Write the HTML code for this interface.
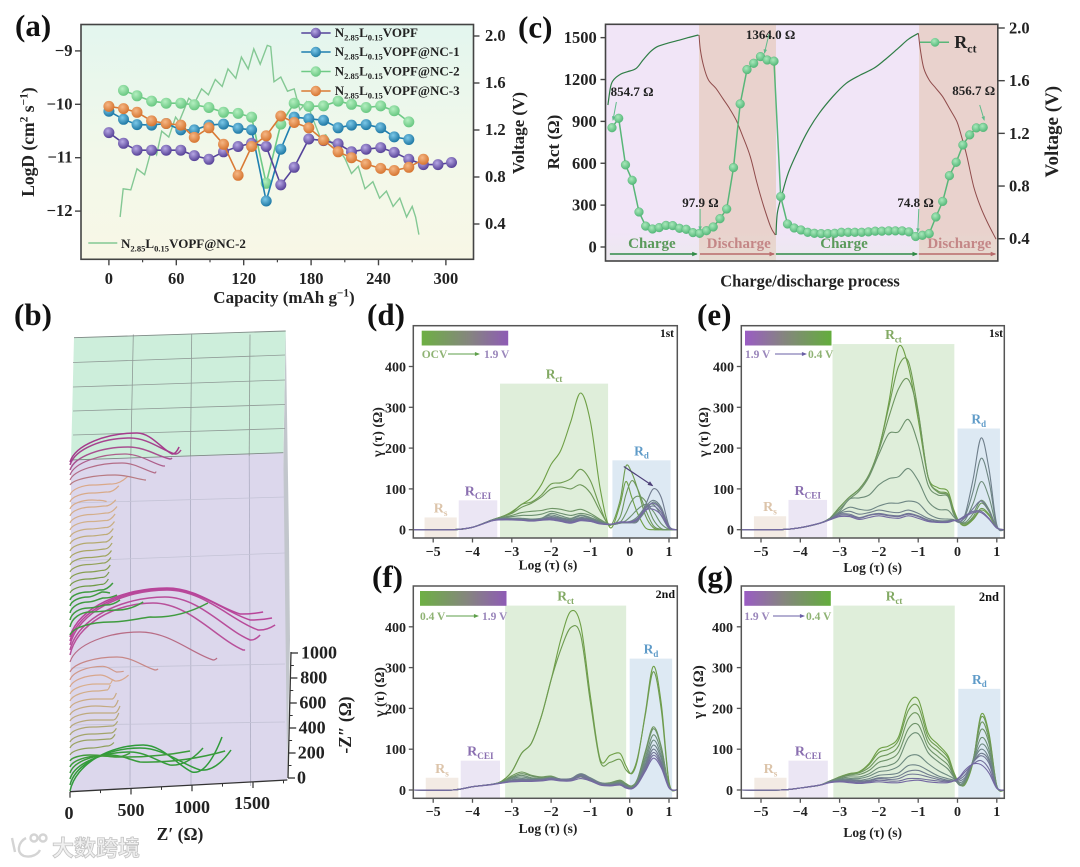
<!DOCTYPE html>
<html lang="en">
<head>
<meta charset="utf-8">
<title>Battery electrochemistry figure</title>
<style>
html,body{margin:0;padding:0;background:#fff;width:1080px;height:867px;overflow:hidden}
svg{display:block;font-family:"Liberation Serif","Noto Serif CJK SC",serif;font-weight:bold}
</style>
</head>
<body>
<svg id="fig" xmlns="http://www.w3.org/2000/svg" width="1080" height="867" viewBox="0 0 1080 867">
<defs>
<linearGradient id="bgA" x1="0" y1="0" x2="0" y2="1"><stop offset="0" stop-color="#e3f6ee"/><stop offset="0.55" stop-color="#f2f8ea"/><stop offset="1" stop-color="#f8f7e6"/></linearGradient>
<linearGradient id="fadeC" x1="0" y1="0" x2="0" y2="1"><stop offset="0" stop-color="#dff0d8" stop-opacity="0"/><stop offset="1" stop-color="#dff0d8" stop-opacity="0.3"/></linearGradient>
<linearGradient id="barGP" x1="0" y1="0" x2="1" y2="0"><stop offset="0" stop-color="#6db043"/><stop offset="0.55" stop-color="#85857f"/><stop offset="1" stop-color="#8e5bb5"/></linearGradient>
<linearGradient id="barPG" x1="0" y1="0" x2="1" y2="0"><stop offset="0" stop-color="#9a5cc4"/><stop offset="0.45" stop-color="#85857f"/><stop offset="1" stop-color="#63ad3c"/></linearGradient>
<radialGradient id="ballPurple" cx="0.4" cy="0.35" r="0.7"><stop offset="0" stop-color="#b7a8e4"/><stop offset="1" stop-color="#4f3a92"/></radialGradient>
<radialGradient id="ballBlue" cx="0.4" cy="0.35" r="0.7"><stop offset="0" stop-color="#7cc8e8"/><stop offset="1" stop-color="#17729f"/></radialGradient>
<radialGradient id="ballGreen" cx="0.4" cy="0.35" r="0.7"><stop offset="0" stop-color="#b4efc0"/><stop offset="1" stop-color="#62c47c"/></radialGradient>
<radialGradient id="ballRct" cx="0.4" cy="0.35" r="0.7"><stop offset="0" stop-color="#a9e8bb"/><stop offset="1" stop-color="#4fb575"/></radialGradient>
<radialGradient id="ballOrange" cx="0.4" cy="0.35" r="0.7"><stop offset="0" stop-color="#f5b785"/><stop offset="1" stop-color="#d4702a"/></radialGradient>
</defs>
</svg>
<script>
/* ---------- Panel (a) data ---------- */
const capacity=[0,13,25,38,51,64,76,89,102,115,127,140,153,165,178,191,204,216,229,242,254,267,280,293,305];
const logDPristine=[-10.53,-10.73,-10.86,-10.86,-10.86,-10.86,-10.96,-11.03,-10.89,-10.79,-10.73,-10.79,-11.51,-11.18,-10.65,-10.68,-10.74,-10.89,-10.84,-10.81,-10.9,-11.03,-11.13,-11.13,-11.09];
const logDNc1=[-10.13,-10.28,-10.38,-10.39,-10.36,-10.48,-10.48,-10.39,-10.37,-10.45,-10.48,-11.81,-10.84,-10.24,-10.27,-10.30,-10.44,-10.39,-10.38,-10.44,-10.61,-10.66];
const logDNc2=[null,-9.74,-9.84,-9.94,-9.98,-9.98,-10.01,-10.06,-10.15,-10.17,-10.24,-11.48,-10.37,-9.98,-10.04,-10.03,-9.94,-10.0,-10.06,-10.03,-10.12,-10.33];
const logDNc3=[-10.04,-10.08,-10.15,-10.31,-10.36,-10.39,-10.62,-10.44,-10.75,-11.33,-10.79,-10.59,-10.22,-10.34,-10.44,-10.67,-10.89,-11.0,-11.12,-11.2,-11.24,-11.18,-11.03];
const gittCapacity=[10,12.7,19.5,25,31.8,38.6,42.5,47,53.3,59.4,62.5,71,76.3,82.5,88.6,94.7,100.9,106,113,118,124,129,134.7,141,144,147,153,159,165,170,176,181,188,193,198,204,210,216,222,228,235,241,247,253,259,265,270,273,276];
const gittVoltage=[0.46,0.70,0.69,0.87,0.82,1.06,0.99,1.19,1.14,1.31,1.27,1.47,1.43,1.55,1.50,1.63,1.57,1.72,1.64,1.82,1.72,1.89,1.76,1.92,1.91,1.61,1.65,1.53,1.55,1.37,1.44,1.31,1.14,1.16,1.09,1.04,0.96,0.83,0.89,0.70,0.76,0.62,0.68,0.55,0.62,0.46,0.55,0.46,0.31];
const aXTicks=[0,60,120,180,240,300];
const aYTicks=[-9,-10,-11,-12];
const aVTicks=[2.0,1.6,1.2,0.8,0.4];

/* ---------- Panel (c) data ---------- */
const rctValues=[855,922,588,478,251,150,129,139,155,153,134,127,103,98,117,143,203,272,569,1025,1271,1316,1364,1340,1331,361,165,136,122,105,98,96,96,98,105,105,105,105,108,113,113,115,115,115,108,75,84,96,215,327,511,607,731,803,853,857];
const voltStepA=[-0.6,-0.2,0.3,1.3,2.3,3.6,4.6,5.7,6.7,8.2,9.7,11.3,12.8];
const voltValA=[1.415,1.554,1.61,1.65,1.668,1.694,1.757,1.82,1.858,1.884,1.904,1.927,1.947];
const voltStepB=[12.9,13.1,13.6,14.3,15.4,16.4,17.4,18.4,19.4,20.5,21.5,22.5,23.5,24.2];
const voltValB=[1.947,1.833,1.706,1.605,1.542,1.466,1.39,1.30,1.175,1.023,0.82,0.643,0.491,0.428];
const voltStepC=[24.3,24.5,25.1,26.1,27.6,29.1,30.7,32.7,34.7,36.8,38.8,40.4,42.4,43.9,45.4];
const voltValC=[0.428,0.592,0.719,0.896,1.073,1.225,1.352,1.478,1.58,1.643,1.694,1.757,1.846,1.914,1.96];
const voltStepD=[45.4,45.7,46.2,47,48,49,50,51.1,51.8,52.6,53.6,54.6,55.7,56.9];
const voltValD=[1.96,1.833,1.694,1.605,1.542,1.478,1.39,1.289,1.175,1.023,0.795,0.643,0.516,0.397];
const cRctTicks=[0,300,600,900,1200,1500];
const cVTicks=[2.0,1.6,1.2,0.8,0.4];

/* ---------- Panel (b) data: waterfall spectra ---------- */
const bOffset=[0,6,12,18,24,30, 36,43,49,56,63,70,76,83,90,97,104,111, 119,129,136,141,146,150,154, 156,164,171,178,185,191, 198,205,212,219,226,233,240,247,254,261,268,275,282,289,296, 306,311,316,321,326,329];
const bPeakZr=[600,574,492,328,246,164, 180,170,180,190,200,200,210,210,220,220,250,270, 385,574,680,779,795,795,795, 330,164,148,148,148,148, 150,150,155,160,160,165,165,170,170,175,175,180,180,185,190, 369,426,451,476,492,549];
const bPeakZi=[368,296,216,144,88,48, 56,64,64,64,64,64,72,72,80,80,96,110, 120,240,416,424,440,416,392, 104,120,96,88,72,64, 56,56,56,60,60,60,64,64,64,68,68,72,72,72,80, 80,136,168,184,216,232];
const bMinZr=[1000,1066,820,574,410,369, 300,320,330,340,350,360,350,340,300,320,370,380, 697,1173,1419,1476,1542,1476,1394, 660,369,287,270,262,246, 260,265,270,270,275,280,280,285,290,290,295,280,230,300,330, 615,697,763,820,861,836];
const bMinZi=[152,120,112,88,80,32, 72,72,72,72,64,64,64,72,88,80,48,64, 16,16,40,80,120,168,184, 144,136,120,120,112,80, 70,70,70,72,72,72,72,76,76,76,80,80,70,80,88, 40,56,72,88,88,64];
const bTailZr=[1246,1320,1090,1271,984,492, 360,370,380,390,400,410,395,380,330,350,480,440, 722,1205,1435,1558,1681,1656,1583, 1130,600,410,385,328,352, 315,320,330,335,340,345,350,355,365,370,385,375,300,400,475, 623,705,779,836,910,894];
const bTailZi=[432,280,248,176,128,64, 100,110,110,110,120,120,120,120,130,120,96,70, 24,32,40,120,160,184,200, 256,200,160,144,104,136, 112,112,112,116,116,120,120,124,124,128,132,130,60,130,150, 40,68,72,96,120,120];
const bXTicks=[0,500,1000,1500];
const bZTicks=[0,200,400,600,800,1000];

/* ---------- DRT panels data ---------- */
const tauGrid=[-5.5,-4.5,-4,-3.5,-3.25,-3,-2.75,-2.5,-2.25,-2,-1.75,-1.5,-1.25,-1,-0.75,-0.5,-0.25,-0.1,0.05,0.2,0.4,0.6,0.8,1,1.2];
const drtXTicks=[-5,-4,-3,-2,-1,0,1];
const drtYTicks=[0,100,200,300,400];
const curvesD=[
[0,0,6,24,32,44,62,78,110,160,195,265,335,265,100,5,60,118,80,40,5,0,0,0,0],
[0,0,6,24,32,42,62,68,85,112,115,125,148,120,55,10,70,155,140,100,35,5,0,0,0],
[0,0,6,24,32,40,55,65,80,100,105,100,110,90,45,12,30,85,120,100,50,10,1,0,0],
[0,0,6,24,30,35,42,45,47,52,50,45,50,40,25,13,18,40,70,82,70,25,3,0,0],
[0,0,6,24,30,32,35,35,38,45,40,35,40,35,22,13,16,22,35,50,62,45,15,1,0],
[0,0,6,24,28,28,28,26,28,40,34,28,36,30,20,13,16,18,22,32,55,62,35,3,0],
[0,0,6,23,28,28,27,26,28,36,30,26,34,28,19,13,16,17,18,22,45,68,50,6,0],
[0,0,6,23,27,27,26,24,26,32,28,24,30,26,18,13,17,17,17,20,55,72,55,8,0],
[0,0,6,23,27,26,25,24,26,30,26,22,28,24,17,13,18,18,18,25,60,100,80,10,0],
[0,0,6,22,26,25,24,23,25,28,24,20,26,24,16,13,18,18,18,24,48,58,42,6,0],
[0,0,6,22,25,24,24,22,24,26,22,18,24,22,15,13,18,18,19,26,52,65,48,6,0],
[0,0,6,22,24,24,23,21,23,24,20,16,22,20,14,13,19,19,20,28,48,50,36,4,0]];
const curvesE=[
[0,0,5,16,28,55,80,100,135,200,310,448,400,270,130,103,95,50,18,10,25,48,35,5,0],
[0,0,5,16,28,55,80,100,135,200,300,400,412,290,130,95,88,45,18,12,28,52,38,5,0],
[0,0,5,16,28,55,80,100,135,195,275,345,368,285,130,92,85,42,20,15,32,65,45,6,0],
[0,0,5,16,28,50,75,95,130,185,235,240,270,210,110,85,82,38,20,18,40,72,50,6,0],
[0,0,5,16,28,45,75,78,85,110,125,130,150,120,70,50,48,32,18,25,65,118,80,8,0],
[0,0,5,16,26,42,55,50,48,58,65,65,70,65,40,28,26,25,20,35,95,175,120,10,0],
[0,0,5,16,26,40,45,38,42,48,44,42,48,40,28,22,22,24,18,40,125,225,150,12,0],
[0,0,5,16,25,38,38,30,36,40,36,34,40,34,24,20,20,23,20,30,52,70,46,6,0],
[0,0,5,16,25,35,35,28,35,38,34,32,38,32,22,18,18,22,26,35,45,45,28,4,0],
[0,0,5,16,24,32,32,25,30,34,30,28,34,28,20,18,19,22,24,32,42,42,26,4,0]];
const curvesF=[
[0,0,8,14,22,45,90,115,180,270,370,438,405,230,75,85,90,60,40,75,190,303,215,20,0],
[0,0,8,14,22,45,90,115,180,270,345,398,380,215,70,68,75,50,42,80,185,290,200,18,0],
[0,0,8,14,20,35,44,36,32,34,26,24,32,22,16,18,24,16,10,28,95,155,108,10,0],
[0,0,8,14,20,32,40,34,30,32,26,24,34,24,16,17,22,14,8,26,90,150,105,10,0],
[0,0,8,14,19,30,36,30,28,30,26,26,36,26,17,16,20,12,7,24,80,135,95,9,0],
[0,0,8,14,19,28,32,28,27,30,27,27,38,28,18,15,18,11,6,22,72,122,85,8,0],
[0,0,8,14,18,25,28,26,26,28,26,28,40,30,18,14,17,10,5,20,65,110,78,8,0],
[0,0,8,14,18,24,26,25,26,30,27,28,38,28,16,13,15,8,4,18,60,100,70,7,0],
[0,0,8,14,18,22,24,24,25,28,26,26,36,26,15,12,14,7,4,16,55,92,65,6,0],
[0,0,8,14,17,21,22,22,24,27,24,24,32,24,13,11,13,6,3,15,50,85,60,6,0],
[0,0,8,13,17,20,21,21,22,25,22,22,28,22,12,10,12,5,3,14,46,78,55,5,0]];
const curvesG=[
[0,0,5,12,22,32,40,45,65,100,108,130,210,222,140,112,85,45,15,15,70,185,140,10,0],
[0,0,5,12,22,32,40,44,62,92,100,122,195,205,130,105,80,42,15,16,72,178,135,10,0],
[0,0,5,12,22,31,38,42,55,80,88,108,175,185,118,95,72,38,14,18,75,165,125,10,0],
[0,0,5,12,22,30,36,38,48,68,75,92,150,160,105,82,62,35,12,20,75,148,115,9,0],
[0,0,5,12,21,28,32,32,40,55,60,75,128,138,92,70,52,32,12,22,72,128,100,8,0],
[0,0,5,12,21,26,28,28,34,45,48,58,82,85,65,48,36,28,14,25,70,112,90,8,0],
[0,0,5,12,20,24,26,24,28,36,38,42,60,60,48,35,28,24,18,28,70,100,78,7,0],
[0,0,5,12,20,23,24,22,24,30,30,34,46,48,38,30,24,22,22,32,68,90,72,6,0],
[0,0,5,12,19,22,22,20,22,28,26,28,38,38,32,26,22,22,26,38,68,84,66,6,0],
[0,0,5,12,19,21,20,18,20,24,22,22,28,28,25,22,20,22,30,45,64,72,52,5,0],
[0,0,5,12,18,20,18,16,18,20,18,18,22,24,20,18,18,22,32,50,64,62,42,4,0]];

/* ---------- helpers ---------- */
const NS='http://www.w3.org/2000/svg';
const svg=document.getElementById('fig');
function mk(parent,tag,name,attrs){
  const el=document.createElementNS(NS,tag);
  for(const k in attrs){el.setAttribute(k,attrs[k]);}
  
  
  parent.appendChild(el);
  return el;
}
function group(parent,name){return mk(parent,'g',name,{});}
function rich(parent,name,x,y,str,size,attrs){
  const a=Object.assign({x:x,y:y,'font-size':size},attrs||{});
  const t=mk(parent,'text',name,a);
  const parts=str.split(/(_\{[^}]*\}|\^\{[^}]*\})/);
  let shift=0;
  parts.forEach(function(p){
    if(!p)return;
    const s=document.createElementNS(NS,'tspan');
    if(p[0]==='_'&&p[1]==='{'){
      s.setAttribute('font-size',size*0.66);
      s.setAttribute('dy',size*0.25-shift);shift=size*0.25;
      s.textContent=p.slice(2,-1);
    }else if(p[0]==='^'&&p[1]==='{'){
      s.setAttribute('font-size',size*0.66);
      s.setAttribute('dy',-size*0.38-shift);shift=-size*0.38;
      s.textContent=p.slice(2,-1);
    }else{
      if(shift!==0){s.setAttribute('dy',-shift);shift=0;}
      s.textContent=p;
    }
    t.appendChild(s);
  });
  return t;
}
function rot(parent,name,x,y,str,size,attrs){
  const a=Object.assign({'text-anchor':'middle',transform:'rotate(-90 '+x+' '+y+')'},attrs||{});
  return rich(parent,name,x,y,str,size,a);
}
function poly(xs,ys){
  let d='';let started=false;
  for(let i=0;i<xs.length;i++){
    if(ys[i]===null||ys[i]===undefined)continue;
    d+=(started?'L':'M')+xs[i].toFixed(1)+' '+ys[i].toFixed(1);started=true;
  }
  return d;
}
function smooth(xs,ys){
  let d='M'+xs[0].toFixed(1)+' '+ys[0].toFixed(1);
  for(let i=0;i<xs.length-1;i++){
    const x0=xs[Math.max(i-1,0)],y0=ys[Math.max(i-1,0)],x1=xs[i],y1=ys[i],x2=xs[i+1],y2=ys[i+1],
      x3=xs[Math.min(i+2,xs.length-1)],y3=ys[Math.min(i+2,xs.length-1)];
    d+='C'+(x1+(x2-x0)/6).toFixed(1)+' '+(y1+(y2-y0)/6).toFixed(1)+' '+(x2-(x3-x1)/6).toFixed(1)+' '+(y2-(y3-y1)/6).toFixed(1)+' '+x2.toFixed(1)+' '+y2.toFixed(1);
  }
  return d;
}
function hex(c){return [parseInt(c.substr(1,2),16),parseInt(c.substr(3,2),16),parseInt(c.substr(5,2),16)];}
function mix(a,b,t){const A=hex(a),B=hex(b);return 'rgb('+A.map(function(v,i){return Math.round(v+(B[i]-v)*t);}).join(',')+')';}
function ramp(stops,v){
  for(let i=0;i<stops.length-1;i++){
    if(v<=stops[i+1][0]){return mix(stops[i][1],stops[i+1][1],Math.max(0,(v-stops[i][0])/(stops[i+1][0]-stops[i][0])));}
  }
  return stops[stops.length-1][1];
}
function arrow(parent,name,x1,y1,x2,y2,color,w,head){
  const g=group(parent,name);
  mk(g,'line',name+'-shaft',{x1:x1,y1:y1,x2:x2,y2:y2,stroke:color,'stroke-width':w});
  const ang=Math.atan2(y2-y1,x2-x1),h=head||5;
  const p=[[x2+Math.cos(ang)*1,y2+Math.sin(ang)*1],
    [x2-Math.cos(ang-0.45)*h,y2-Math.sin(ang-0.45)*h],
    [x2-Math.cos(ang+0.45)*h,y2-Math.sin(ang+0.45)*h]].map(function(q){return q[0].toFixed(1)+','+q[1].toFixed(1);}).join(' ');
  mk(g,'polygon',name+'-head',{points:p,fill:color});
}
const INK='#222';
const AXIS='#444';

/* ---------- Panel (a) ---------- */
(function(){
  const P=group(svg,'panel-a');
  const L=81,R=473.5,T=24.5,B=259.3;
  const xA=function(c){return 108.9+c*1.1233;};
  const yD=function(v){return 104.3-(v+10)*53.4;};
  const yV=function(v){return 36+(2-v)*117.5;};
  mk(P,'rect','plot-background',{x:L,y:T,width:R-L,height:B-T,fill:'url(#bgA)'});
  mk(P,'path','voltage-line',{d:poly(gittCapacity.map(xA),gittVoltage.map(yV)),fill:'none',stroke:'#84c894','stroke-width':1.4});
  function series(vals,name,line,ball){
    const g=group(P,name);
    const xs=[],ys=[];
    vals.forEach(function(v,i){xs.push(xA(capacity[i]));ys.push(v===null?null:yD(v));});
    mk(g,'path',name+'-line',{d:poly(xs,ys),fill:'none',stroke:line,'stroke-width':1.6});
    vals.forEach(function(v,i){
      if(v===null)return;
      mk(g,'circle',name+'-point',{cx:xA(capacity[i]).toFixed(1),cy:yD(v).toFixed(1),r:5.5,fill:ball});
    });
  }
  series(logDNc2,'series-nc2','#6fca86','url(#ballGreen)');
  series(logDNc1,'series-nc1','#1f7fb0','url(#ballBlue)');
  series(logDPristine,'series-pristine','#55439a','url(#ballPurple)');
  series(logDNc3,'series-nc3','#d97a35','url(#ballOrange)');
  mk(P,'rect','plot-frame',{x:L,y:T,width:R-L,height:B-T,fill:'none',stroke:AXIS,'stroke-width':1.6});
  aXTicks.forEach(function(t){
    mk(P,'line','x-tick',{x1:xA(t),x2:xA(t),y1:B,y2:B+6,stroke:AXIS,'stroke-width':1.4});
    rich(P,'x-tick-label',xA(t),284,String(t),16.5,{'text-anchor':'middle',fill:INK});
    if(t<300)mk(P,'line','x-minor-tick',{x1:xA(t+30),x2:xA(t+30),y1:B,y2:B+3,stroke:AXIS,'stroke-width':1.2});
  });
  aYTicks.forEach(function(t){
    mk(P,'line','y-tick',{x1:L-6,x2:L,y1:yD(t),y2:yD(t),stroke:AXIS,'stroke-width':1.4});
    rich(P,'y-tick-label',72.5,yD(t)+5,'\u2212'+Math.abs(t),16.5,{'text-anchor':'end',fill:INK});
  });
  aVTicks.forEach(function(t){
    mk(P,'line','voltage-tick',{x1:R,x2:R+6,y1:yV(t),y2:yV(t),stroke:AXIS,'stroke-width':1.4});
    rich(P,'voltage-tick-label',485,yV(t)+5,t.toFixed(1),16.5,{fill:INK});
  });
  rich(P,'x-axis-title',284,303,'Capacity (mAh g^{\u22121})',17,{'text-anchor':'middle',fill:INK});
  rot(P,'y-axis-title',34,142,'LogD (cm^{2} s^{\u22121})',17.5,{fill:INK});
  rot(P,'voltage-axis-title',524,133,'Voltage (V)',17,{fill:INK});
  const names=['N_{2.85}L_{0.15}VOPF','N_{2.85}L_{0.15}VOPF@NC-1','N_{2.85}L_{0.15}VOPF@NC-2','N_{2.85}L_{0.15}VOPF@NC-3'];
  const lineCols=['#55439a','#1f7fb0','#6fca86','#d97a35'];
  const balls=['url(#ballPurple)','url(#ballBlue)','url(#ballGreen)','url(#ballOrange)'];
  const ly=[33,52,71.5,91];
  names.forEach(function(n,i){
    const g=group(P,'legend-entry');
    mk(g,'line','legend-line',{x1:301.3,x2:330.6,y1:ly[i],y2:ly[i],stroke:lineCols[i],'stroke-width':1.5});
    mk(g,'circle','legend-marker',{cx:315.8,cy:ly[i],r:5.2,fill:balls[i]});
    rich(g,'legend-label',334.7,ly[i]+4,n,13,{fill:INK});
  });
  const g2=group(P,'legend-voltage');
  mk(g2,'line','legend-line',{x1:88.3,x2:117.3,y1:243,y2:243,stroke:'#84c894','stroke-width':1.4});
  rich(g2,'legend-label',121,248,names[2],13,{fill:INK});
  rich(P,'panel-label',15,36,'(a)',31,{fill:'#111'});
})();

/* ---------- Panel (c) ---------- */
(function(){
  const P=group(svg,'panel-c');
  const L=605.5,R=997.8,T=24.3,B=261;
  const xS=function(s){return 540+(209+19.6*s)/2.904;};
  const yR=function(v){return 247-v*0.13957;};
  const yV=function(v){return 28+(2-v)*131.7;};
  const stepEdges=[-0.97,12.9,24.3,45.5,57.2];
  const fills=['#f1e5f7','#e9d2cd','#f1e5f7','#e9d2cd'];
  const regionNames=['charge-region-1','discharge-region-1','charge-region-2','discharge-region-2'];
  fills.forEach(function(f,i){
    mk(P,'rect',regionNames[i],{x:xS(stepEdges[i]),y:T,width:xS(stepEdges[i+1])-xS(stepEdges[i]),height:B-T,fill:f});
  });
  mk(P,'rect','region-fade',{x:L,y:232,width:R-L,height:B-232,fill:'url(#fadeC)'});
  mk(P,'path','voltage-charge-1',{d:smooth(voltStepA.map(xS),voltValA.map(yV)),fill:'none',stroke:'#2f7d46','stroke-width':1.2});
  mk(P,'path','voltage-discharge-1',{d:smooth(voltStepB.map(xS),voltValB.map(yV)),fill:'none',stroke:'#8f4b4b','stroke-width':1});
  mk(P,'path','voltage-charge-2',{d:smooth(voltStepC.map(xS),voltValC.map(yV)),fill:'none',stroke:'#2f7d46','stroke-width':1.2});
  mk(P,'path','voltage-discharge-2',{d:smooth(voltStepD.map(xS),voltValD.map(yV)),fill:'none',stroke:'#8f4b4b','stroke-width':1});
  const sx=rctValues.map(function(v,i){return xS(i);});
  const sy=rctValues.map(yR);
  const S=group(P,'series-rct');
  mk(S,'path','rct-line',{d:poly(sx,sy),fill:'none',stroke:'#58b678','stroke-width':1.5});
  rctValues.forEach(function(v,i){
    mk(S,'circle','rct-point',{cx:sx[i].toFixed(1),cy:sy[i].toFixed(1),r:4.4,fill:'url(#ballRct)',stroke:'#52b676','stroke-width':0.4});
  });
  mk(P,'rect','plot-frame',{x:L,y:T,width:R-L,height:B-T,fill:'none',stroke:AXIS,'stroke-width':1.6});
  cRctTicks.forEach(function(t){
    mk(P,'line','rct-tick',{x1:L-5,x2:L,y1:yR(t),y2:yR(t),stroke:AXIS,'stroke-width':1.4});
    rich(P,'rct-tick-label',596.7,yR(t)+5.5,String(t),16.5,{'text-anchor':'end',fill:INK});
  });
  cVTicks.forEach(function(t){
    mk(P,'line','voltage-tick',{x1:R,x2:R+7,y1:yV(t),y2:yV(t),stroke:AXIS,'stroke-width':1.4});
    rich(P,'voltage-tick-label',1009,yV(t)+5.5,t.toFixed(1),16.5,{fill:INK});
  });
  rich(P,'x-axis-title',810,286.7,'Charge/discharge process',16.4,{'text-anchor':'middle',fill:INK});
  rot(P,'rct-axis-title',559,142,'Rct (\u03a9)',17,{fill:INK});
  rot(P,'voltage-axis-title',1058,131.7,'Voltage (V)',19,{fill:INK});
  const ann=[['854.7 \u03a9',610.6,96,616.4,102,613,120],['97.9 \u03a9',682.2,207,700.1,209,700.1,230],['1364.0 \u03a9',745.9,39,769,34,764.5,53],['74.8 \u03a9',897.4,207,918.8,209,917.8,232],['856.7 \u03a9',952.2,95,979.7,105,984.2,120]];
  ann.forEach(function(a){
    rich(P,'value-annotation',a[1],a[2],a[0],13,{fill:INK});
    arrow(P,'annotation-arrow',a[3],a[4],a[5],a[6],'#5fbb8a',1,4);
  });
  const labs=[['Charge',651.9,'#5b9a5b'],['Discharge',738.7,'#c48787'],['Charge',844,'#5b9a5b'],['Discharge',959.4,'#c48787']];
  labs.forEach(function(l){rich(P,'phase-label',l[1],248,l[0],15,{'text-anchor':'middle',fill:l[2]});});
  arrow(P,'charge-arrow',609.9,254,696.7,254,'#2f8a45',1.4,5);
  arrow(P,'discharge-arrow',700,254,774,254,'#b86a6a',1.4,5);
  arrow(P,'charge-arrow',775.9,254,917,254,'#2f8a45',1.4,5);
  arrow(P,'discharge-arrow',918.8,254,995.2,254,'#b86a6a',1.4,5);
  const G=group(P,'legend-rct');
  mk(G,'line','legend-line',{x1:920,x2:949,y1:42.3,y2:42.3,stroke:'#58b678','stroke-width':1.5});
  mk(G,'circle','legend-marker',{cx:935,cy:42.3,r:4.4,fill:'url(#ballRct)'});
  rich(G,'legend-label',954.3,48,'R_{ct}',18,{fill:INK});
  rich(P,'panel-label',518,37.5,'(c)',31,{fill:'#111'});
})();

/* ---------- Panel (b) ---------- */
(function(){
  const P=group(svg,'panel-b');
  const xB=function(z){return 70+z*0.122;};
  const yB=function(off,z){return 791-off-z*0.125;};
  mk(P,'polygon','right-wall-edge',{points:'285.7,331 283.5,452 283,600 287,780 290,640 289,540',fill:'#c2c6cc'});
  mk(P,'polygon','green-wall',{points:'74,337.7 285.7,331 283.3,452.7 71,460',fill:'#cdeedb'});
  mk(P,'polygon','purple-wall',{points:'71,460 283.3,452.7 287.3,780 70,791.7',fill:'#dcd7ec'});
  const gridTop=[133.3,191.7,250];
  const gridMid=[130.8,190.5,249.2];
  const gridBot=[130,191,250.7];
  gridTop.forEach(function(x,i){
    mk(P,'line','wall-grid-line',{x1:x,y1:334.5-i*0.0,x2:gridMid[i],y2:456,stroke:'#8f9a96','stroke-width':0.8});
    mk(P,'line','wall-grid-line',{x1:gridMid[i],y1:456,x2:gridBot[i],y2:786,stroke:'#adadc2','stroke-width':0.8});
  });
  const hLeft=[362.5,387,411,435];
  const hRight=[355,380,404.5,428.5];
  hLeft.forEach(function(y,i){
    mk(P,'line','wall-grid-line',{x1:73,y1:y,x2:285,y2:hRight[i],stroke:'#8f9a96','stroke-width':0.8});
  });
  const hLow=[[503,497],[561,553],[668,664],[725,722]];
  hLow.forEach(function(h){
    mk(P,'line','wall-grid-line',{x1:71,y1:h[0],x2:285,y2:h[1],stroke:'#c4c3d6','stroke-width':0.8});
  });
  mk(P,'line','top-edge',{x1:74,y1:337.7,x2:285.7,y2:331,stroke:'#7f8a86','stroke-width':0.9});
  mk(P,'line','wall-divider',{x1:71,y1:460,x2:283.3,y2:452.7,stroke:'#7f8a86','stroke-width':0.9});
  const colorStops=[[0,'#2f9b3a'],[30,'#3f9b3a'],[36,'#8f9f5a'],[60,'#b4a878'],[100,'#dcae8e'],[118,'#c98a86'],[129,'#b86c85'],[136,'#b8509a'],[154,'#b8459a'],[155.5,'#3f9b3f'],[191,'#3f9b3f'],[198,'#6f9a45'],[230,'#a5a560'],[260,'#d2b08a'],[296,'#daa888'],[306,'#b87a82'],[321,'#a85090'],[329,'#a53b8c']];
  bOffset.forEach(function(off,i){
    const sx=xB(0),sy=yB(off,0),px=xB(bPeakZr[i]),py=yB(off,bPeakZi[i]),mx=xB(bMinZr[i]),my=yB(off,bMinZi[i]),tx=xB(bTailZr[i]),ty=yB(off,bTailZi[i]);
    const d='M'+sx.toFixed(1)+' '+sy.toFixed(1)+
      'C'+(sx+0.08*(px-sx)).toFixed(1)+' '+(sy-0.6*(sy-py)).toFixed(1)+' '+(px-0.45*(px-sx)).toFixed(1)+' '+py.toFixed(1)+' '+px.toFixed(1)+' '+py.toFixed(1)+
      'C'+(px+0.4*(mx-px)).toFixed(1)+' '+py.toFixed(1)+' '+(mx-0.3*(mx-px)).toFixed(1)+' '+(my-0.25*(my-py)).toFixed(1)+' '+mx.toFixed(1)+' '+my.toFixed(1)+
      'Q'+(mx+0.5*(tx-mx)).toFixed(1)+' '+(my+0.1*(my-ty)).toFixed(1)+' '+tx.toFixed(1)+' '+ty.toFixed(1);
    mk(P,'path','impedance-spectrum',{d:d,fill:'none',stroke:ramp(colorStops,off),'stroke-width':(off<31||off>=130&&off<155||off>155&&off<195||off>318)?1.5:1.2});
  });
  mk(P,'line','floor-axis',{x1:70,y1:791.7,x2:287.3,y2:780,stroke:'#333','stroke-width':1.3});
  const floorY=function(z){return 791.7-z*0.00645;};
  bXTicks.forEach(function(t){
    mk(P,'line','x-tick',{x1:xB(t),x2:xB(t),y1:floorY(t),y2:floorY(t)+6,stroke:'#333','stroke-width':1.2});
    mk(P,'line','x-minor-tick',{x1:xB(t+250),x2:xB(t+250),y1:floorY(t+250),y2:floorY(t+250)+3,stroke:'#333','stroke-width':1});
  });
  const xLab=[[69,819],[131,816],[192,813],[252,809]];
  bXTicks.forEach(function(t,i){
    rich(P,'x-tick-label',xLab[i][0],xLab[i][1],String(t),18,{'text-anchor':'middle',fill:INK});
  });
  mk(P,'line','z-axis',{x1:291,y1:652,x2:288,y2:778,stroke:'#333','stroke-width':1.3});
  bZTicks.forEach(function(t){
    const y=778-t*0.125;
    const x=288+t*0.003;
    mk(P,'line','z-tick',{x1:x,x2:x+7,y1:y,y2:y,stroke:'#333','stroke-width':1.3});
    if(t<1000)mk(P,'line','z-minor-tick',{x1:x,x2:x+3.5,y1:y-12.5,y2:y-12.5,stroke:'#333','stroke-width':1});
    rich(P,'z-tick-label',297+t*0.004,y+5.5,String(t),18,{fill:INK});
  });
  rich(P,'x-axis-title',180,840,'Z\u2032 (\u03a9)',17.5,{'text-anchor':'middle',fill:INK});
  rot(P,'z-axis-title',351,725,'-Z\u2033 (\u03a9)',17.5,{fill:INK});
  rich(P,'panel-label',14,325,'(b)',31,{fill:'#111'});
})();

/* ---------- DRT panels ---------- */
function drtPanel(c){
  const P=group(svg,c.name);
  const xT=function(t){return c.x0+t*39.3;};
  const yG=function(v){return c.y0-v*0.408;};
  const B=c.y0+8.3,T=c.y0-204;
  const boxColors=['#f3ebe4','#ebe6f4','#dfeeda','#dde9f3'];
  const boxNames=['rs-region','rcei-region','rct-region','rd-region'];
  const labelColors=['#dcc4aa','#8a6fb0','#82a963','#5f9bc8'];
  const labelText=['R_{s}','R_{CEI}','R_{ct}','R_{d}'];
  c.boxes.forEach(function(b,i){
    mk(P,'rect',boxNames[i],{x:xT(b[0]),y:yG(b[2]),width:xT(b[1])-xT(b[0]),height:B-yG(b[2]),fill:boxColors[i]});
    rich(P,boxNames[i]+'-label',(xT(b[0])+xT(b[1]))/2,yG(b[2])-5,labelText[i],i===2||i===3?13.5:14,{'text-anchor':'middle',fill:labelColors[i]});
  });
  const xs=tauGrid.map(xT);
  const n=c.curves.length;
  c.curves.forEach(function(v,i){
    const col=ramp([[0,'#6e9f45'],[0.5,'#6d8a80'],[1,'#7468a2']],i/(n-1));
    mk(P,'path','drt-curve',{d:smooth(xs,v.map(yG)),fill:'none',stroke:col,'stroke-width':1.1});
  });
  mk(P,'rect','plot-frame',{x:c.L,y:T,width:c.R-c.L,height:B-T,fill:'none',stroke:'#555','stroke-width':1.5});
  drtXTicks.forEach(function(t){
    mk(P,'line','x-tick',{x1:xT(t),x2:xT(t),y1:B,y2:B+4.5,stroke:'#555','stroke-width':1.3});
    const label=t<0?'\u2212'+Math.abs(t):String(t);
    rich(P,'x-tick-label',xT(t),c.tickY,label,14,{'text-anchor':'middle',fill:INK});
  });
  drtYTicks.forEach(function(t){
    mk(P,'line','y-tick',{x1:c.L-4.5,x2:c.L,y1:yG(t),y2:yG(t),stroke:'#555','stroke-width':1.3});
    rich(P,'y-tick-label',c.yLabX,yG(t)+5,String(t),14,{'text-anchor':'end',fill:INK});
  });
  rich(P,'x-axis-title',c.titleX,c.titleY,'Log (\u03c4) (s)',13.5,{'text-anchor':'middle',fill:INK});
  rot(P,'y-axis-title',c.yTitleX,c.yTitleY,'\u03b3 (\u03c4) (\u03a9)',c.yTitleSize,{fill:INK});
  mk(P,'rect','voltage-gradient-bar',{x:c.barX,y:T+5,width:86.5,height:14.8,fill:c.barFill});
  rich(P,'gradient-start-label',c.barX,c.capY,c.capA,11.5,{fill:c.capACol});
  rich(P,'gradient-end-label',c.capBX,c.capY,c.capB,11.5,{fill:c.capBCol});
  arrow(P,'gradient-arrow',c.arX1,c.capY-4,c.arX2,c.capY-4,c.arCol,1,4.5);
  rich(P,'cycle-label',c.cycX,c.cycY,c.cycle,c.cycSize,{'text-anchor':'end',fill:'#111'});
  rich(P,'panel-label',c.labX,c.labY,c.label,31,{fill:'#111'});
  return {xT:xT,yG:yG,P:P};
}
const dPanel=drtPanel({name:'panel-d',x0:629.7,y0:529.7,L:413.3,R:677.3,tickY:556,yLabX:406,titleX:548,titleY:569.5,yTitleX:382,yTitleY:432,yTitleSize:14,
  boxes:[[-5.22,-4.4,30],[-4.35,-3.37,72],[-3.3,-0.55,358],[-0.44,1.04,170]],curves:curvesD,barX:421.7,barFill:'url(#barGP)',capY:358,capA:'OCV',capACol:'#8fb374',capB:'1.9 V',capBCol:'#9a86bb',capBX:484,arX1:448,arX2:479,arCol:'#5e9f4a',cycle:'1st',cycX:674,cycY:337,cycSize:11.5,label:'(d)',labX:367,labY:325});
arrow(dPanel.P,'peak-shift-arrow',dPanel.xT(-0.15),dPanel.yG(155),dPanel.xT(0.58),dPanel.yG(108),'#4c3f78',1.2,5);
drtPanel({name:'panel-e',x0:957.5,y0:529.7,L:741.3,R:1004.3,tickY:556,yLabX:734,titleX:872.7,titleY:572,yTitleX:708,yTitleY:432,yTitleSize:14,
  boxes:[[-5.18,-4.36,33],[-4.3,-3.32,73],[-3.18,-0.08,455],[0,1.08,248]],curves:curvesE,barX:745,barFill:'url(#barPG)',capY:358,capA:'1.9 V',capACol:'#9a86bb',capB:'0.4 V',capBCol:'#8fb374',capBX:808,arX1:775,arX2:806,arCol:'#6a5fa5',cycle:'1st',cycX:1003,cycY:337,cycSize:11.5,label:'(e)',labX:697,labY:325});
drtPanel({name:'panel-f',x0:629.7,y0:790,L:413.3,R:677.3,tickY:816,yLabX:406,titleX:548,titleY:833,yTitleX:384,yTitleY:692,yTitleSize:14,
  boxes:[[-5.19,-4.36,30],[-4.3,-3.3,72],[-3.17,-0.09,452],[0,1.08,322]],curves:curvesF,barX:420,barFill:'url(#barGP)',capY:620,capA:'0.4 V',capACol:'#8fb374',capB:'1.9 V',capBCol:'#9a86bb',capBX:482,arX1:446,arX2:478,arCol:'#5e9f4a',cycle:'2nd',cycX:675,cycY:598,cycSize:12,label:'(f)',labX:372,labY:587});
drtPanel({name:'panel-g',x0:957.5,y0:790,L:741.3,R:1004.3,tickY:816,yLabX:733,titleX:872.7,titleY:837,yTitleX:703,yTitleY:692,yTitleSize:15,
  boxes:[[-5.17,-4.35,30],[-4.3,-3.3,72],[-3.16,-0.07,452],[0.02,1.09,248]],curves:curvesG,barX:744.3,barFill:'url(#barPG)',capY:620,capA:'1.9 V',capACol:'#9a86bb',capB:'0.4 V',capBCol:'#8fb374',capBX:806,arX1:773,arX2:804,arCol:'#6a5fa5',cycle:'2nd',cycX:999,cycY:601,cycSize:12.5,label:'(g)',labX:697,labY:587});

/* ---------- Watermark ---------- */
(function(){
  const W=group(svg,'watermark');
  const style={fill:'none',stroke:'#d4d4d4','stroke-width':2.4};
  mk(W,'path','watermark-logo-hook',Object.assign({d:'M12 838 L15 852 M26 838 C18 842 16 853 24 856 C32 858 38 854 40 850'},style));
  mk(W,'circle','watermark-logo-dot',Object.assign({cx:34,cy:838,r:3.5},style));
  mk(W,'circle','watermark-logo-dot',Object.assign({cx:43,cy:838,r:3.5},style));
  rich(W,'watermark-text',52,856,'\u5927\u6570\u8de8\u5883',22,{fill:'#f0f0f0',stroke:'#c4c4c4','stroke-width':0.8,'font-family':'"Liberation Sans","Noto Sans CJK SC",sans-serif'});
})();
</script>
</body>
</html>
